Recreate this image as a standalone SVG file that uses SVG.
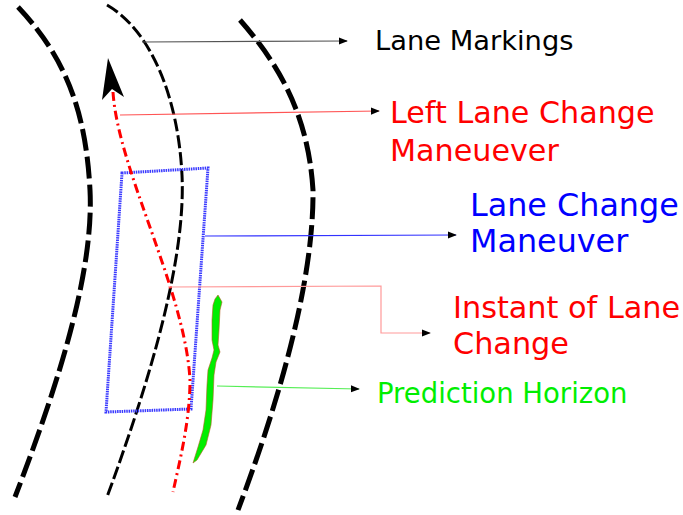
<svg xmlns="http://www.w3.org/2000/svg" width="683" height="515" viewBox="0 0 683 515">
<style>
.lane{fill:none;stroke:#000;stroke-width:5;stroke-dasharray:22,6}
.lanemid{fill:none;stroke:#000;stroke-width:3;stroke-dasharray:13,4}
.traj{fill:none;stroke:#ff0000;stroke-width:3;stroke-dasharray:9,4,2,4}
.conn{fill:none;stroke-width:1.2;marker-end:url(#ah)}
.lbl{font-family:"DejaVu Sans","Liberation Sans",sans-serif}
</style>
<defs>
<marker id="ah" viewBox="0 0 10 10" refX="9" refY="5" markerWidth="9" markerHeight="9" markerUnits="userSpaceOnUse" orient="auto">
<path d="M0,1 L10,5 L0,9 Z" fill="#000"/>
</marker>
</defs>
<g id="lanes">
<path class="lane" d="M18,7 C68,60 86,115 90,190 C94,270 60,380 15,497"/>
<path class="lanemid" d="M107,5 C150,30 178,95 182,175 C186,260 150,380 107,497"/>
<path class="lane" d="M240,20 C275,60 308,110 313,190 C314,290 272,420 238,510"/>
</g>
<g id="maneuver-box">
<path d="M122,173 L208,168 L191,409 L106,412 Z" fill="none" stroke="#3a3aff" stroke-width="3" stroke-dasharray="1.5,0.8"/>
</g>
<g id="trajectory">
<path class="traj" d="M113,92 C118,170 185,290 190,380 C190,420 180,460 173,492"/>
<path d="M108,58 L124,97 L112,89 L102,100 Z" fill="#000"/>
</g>
<g id="horizon">
<path d="M218,295 L222,302 L220,310 L219,330 L218,345 L220,352 L216,362 L214,375 L213,400 L211,425 L206,445 L197,460 L193,463 L198,447 L203,430 L206,410 L207,385 L208,370 L212,358 L214,350 L212,340 L212,320 L213,305 L215,299 Z" fill="#00ee00" stroke="#b06020" stroke-width="0.6"/>
</g>
<g id="connectors">
<path class="conn" d="M142,42 L347,41" stroke="#555"/>
<path class="conn" d="M120,115 L379,111" stroke="#ff5555"/>
<path class="conn" d="M205,236 L456,235" stroke="#3333ff"/>
<path class="conn" d="M168,287 L381,286 L381,333 L430,333" stroke="#ff9999"/>
<path class="conn" d="M217,386 L359,389" stroke="#55ee55"/>
</g>
<g id="label-lane-markings"><text class="lbl" x="375" y="50" font-size="27.3" fill="#000">Lane Markings</text></g>
<g id="label-left-lane-change"><text class="lbl" x="390" y="123" font-size="30.2" fill="#ff0000">Left Lane Change<tspan x="390" y="161">Maneuever</tspan></text></g>
<g id="label-lane-change"><text class="lbl" x="470" y="216" font-size="31.8" fill="#0000ff">Lane Change<tspan x="470" y="252">Maneuver</tspan></text></g>
<g id="label-instant"><text class="lbl" x="453" y="318" font-size="30.3" fill="#ff0000">Instant of Lane<tspan x="453" y="354">Change</tspan></text></g>
<g id="label-horizon"><text class="lbl" x="377" y="403" font-size="27.5" fill="#00ee00">Prediction Horizon</text></g>
</svg>
